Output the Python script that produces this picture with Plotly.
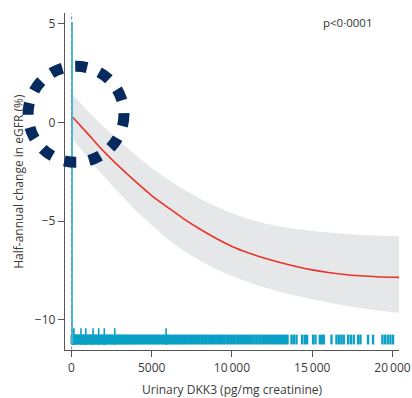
import plotly.graph_objects as go

# ---- data ----
fit_x = [0, 1000, 2000, 3000, 4000, 5000, 6000, 7000, 8000, 9000, 10000,
         11000, 12000, 13000, 14000, 15000, 16000, 17000, 18000, 19000, 20400]
fit_y = [0.34, -0.55, -1.45, -2.25, -3.0, -3.7, -4.3, -4.88, -5.4, -5.87, -6.28,
         -6.6, -6.87, -7.1, -7.3, -7.47, -7.6, -7.7, -7.77, -7.82, -7.85]
upper_y = [1.5, 0.6, -0.2, -0.95, -1.65, -2.3, -2.88, -3.4, -3.85, -4.25, -4.6,
           -4.88, -5.1, -5.27, -5.4, -5.5, -5.58, -5.64, -5.7, -5.73, -5.76]
lower_y = [-0.8, -1.75, -2.7, -3.6, -4.45, -5.2, -5.9, -6.5, -7.0, -7.42, -7.78,
           -8.08, -8.35, -8.58, -8.78, -8.96, -9.12, -9.27, -9.4, -9.52, -9.65]

rug_short = [20, 60, 110, 150, 210, 260, 300, 370, 420, 480, 530, 590, 640, 700, 760,
             810, 870, 930, 990, 1040, 1110, 1170, 1230, 1290, 1340, 1410, 1470, 1530,
             1600, 1660, 1720, 1790, 1850, 1920, 1980, 2050, 2110, 2180, 2250, 2320,
             2390, 2460, 2530, 2600, 2680, 2750, 2820, 2900, 2980, 3050, 3130, 3210,
             3290, 3360, 3440, 3520, 3600, 3690, 3770, 3850, 3940, 4020, 4110, 4190,
             4280, 4360, 4450, 4540, 4630, 4720, 4810, 4900, 4990, 5080, 5170, 5260,
             5360, 5450, 5540, 5640, 5730, 5830, 5930, 6020, 6120, 6220, 6320, 6420,
             6520, 6620, 6720, 6830, 6930, 7030, 7140, 7240, 7350, 7450, 7560, 7660,
             7770, 7880, 7980, 8090, 8200, 8310, 8420, 8530, 8640, 8750, 8860, 8970,
             9080, 9190, 9310, 9420, 9530, 9650, 9760, 9880, 9990, 10110, 10220, 10340,
             10450, 10570, 10690, 10810, 10930, 11050, 11170, 11290, 11410, 11530,
             11650, 11770, 11890, 12010, 12130, 12250, 12380, 12500, 12620, 12750,
             12870, 13000, 13120, 13250, 13370, 13460,
             13709, 13852, 14020, 14370, 14537, 14680, 15053, 15203, 15470, 15614,
             15720, 16198, 16510, 16671, 16821, 16964, 17232, 17400, 17586, 17854,
             18003, 18476, 18787, 19372, 19534, 19702, 19870, 20032]
rug_tall = [80, 160, 600, 900, 1350, 1700, 2050, 2700, 5900]

x_ticks = [0, 5000, 10000, 15000, 20000]
x_labels = ["0", "5000", "10\u2009000", "15\u2009000", "20\u2009000"]
y_ticks = [5, 0, -5, -10]

x_title = "Urinary DKK3 (pg/mg creatinine)"
y_title = "Half-annual change in eGFR (%)"
p_text = "p<0\u00b70001"

CYAN = "#0aa0c6"
RED = "#e8342a"
NAVY = "#062a5e"
AXIS = "#555555"
TXT = "#3a3a3a"
FONT = "Open Sans, sans-serif"

fig = go.Figure()

# CI band
fig.add_trace(go.Scatter(x=fit_x, y=upper_y, mode="lines", line=dict(width=0, shape="spline", smoothing=0.8),
                         hoverinfo="skip", showlegend=False))
fig.add_trace(go.Scatter(x=fit_x, y=lower_y, mode="lines", line=dict(width=0, shape="spline", smoothing=0.8),
                         fill="tonexty", fillcolor="#e6e7e9", hoverinfo="skip", showlegend=False))
# fitted line
fig.add_trace(go.Scatter(x=fit_x, y=fit_y, mode="lines",
                         line=dict(color=RED, width=1.6, shape="spline", smoothing=0.8), showlegend=False))

# rug
fig.add_trace(go.Scatter(x=rug_short, y=[-11.0] * len(rug_short), mode="markers",
                         marker=dict(symbol="line-ns", size=7, line=dict(color=CYAN, width=2.4)),
                         showlegend=False))
fig.add_trace(go.Scatter(x=rug_tall, y=[-10.85] * len(rug_tall), mode="markers",
                         marker=dict(symbol="line-ns", size=12, line=dict(color=CYAN, width=1.6)),
                         showlegend=False))

# vertical reference lines at zero
fig.add_shape(type="line", xref="x", yref="y", x0=40, x1=40, y0=-11.2, y1=5.1,
              line=dict(color="#3cc0e0", width=2))
fig.add_shape(type="line", xref="x", yref="y", x0=10, x1=10, y0=-11.5, y1=5.55,
              line=dict(color="#8a9096", width=1.3, dash="dot"))

# dashed highlight circle (annotation, may extend beyond plot area)
fig.add_shape(type="circle", xref="paper", yref="paper",
              x0=-0.1107, x1=0.1765, y0=0.557, y1=0.842,
              line=dict(color=NAVY, width=11, dash="12px,13px"), layer="above")

fig.add_annotation(text=p_text, xref="paper", yref="paper", x=0.927, y=0.972,
                   xanchor="right", yanchor="middle", showarrow=False,
                   font=dict(family=FONT, size=11.5, color="#333333"))
fig.add_annotation(text="(n=575)", xref="paper", yref="paper", x=0.4, y=1.032,
                   xanchor="center", yanchor="bottom", showarrow=False,
                   font=dict(family=FONT, size=12, color="#6a5a40"))
# axis titles
fig.add_annotation(text=x_title, xref="paper", yref="paper", x=0.5, y=-0.118,
                   xanchor="center", yanchor="middle", showarrow=False,
                   font=dict(family=FONT, size=12, color=TXT))
fig.add_annotation(text=y_title, xref="paper", yref="paper", x=-0.14, y=0.5,
                   xanchor="center", yanchor="middle", showarrow=False, textangle=-90,
                   font=dict(family=FONT, size=12, color=TXT))

fig.update_layout(
    width=412, height=398,
    margin=dict(l=65, r=13, t=13, b=48),
    paper_bgcolor="white", plot_bgcolor="white",
    font=dict(family=FONT, size=12, color=TXT),
    showlegend=False,
)
fig.update_xaxes(range=[-398, 20404], tickvals=x_ticks, ticktext=x_labels, automargin=False,
                 showgrid=False, zeroline=False, showline=True, linecolor=AXIS, linewidth=1.3,
                 ticks="outside", ticklen=6, tickcolor=AXIS, tickwidth=1.3,
                 tickfont=dict(size=12, color=TXT))
fig.update_yaxes(range=[-11.53, 5.55], tickvals=y_ticks, automargin=False,
                 showgrid=False, zeroline=False, showline=True, linecolor=AXIS, linewidth=1.3,
                 ticks="outside", ticklen=6, tickcolor=AXIS, tickwidth=1.3,
                 tickfont=dict(size=12, color=TXT))

fig.write_html("out.html")
